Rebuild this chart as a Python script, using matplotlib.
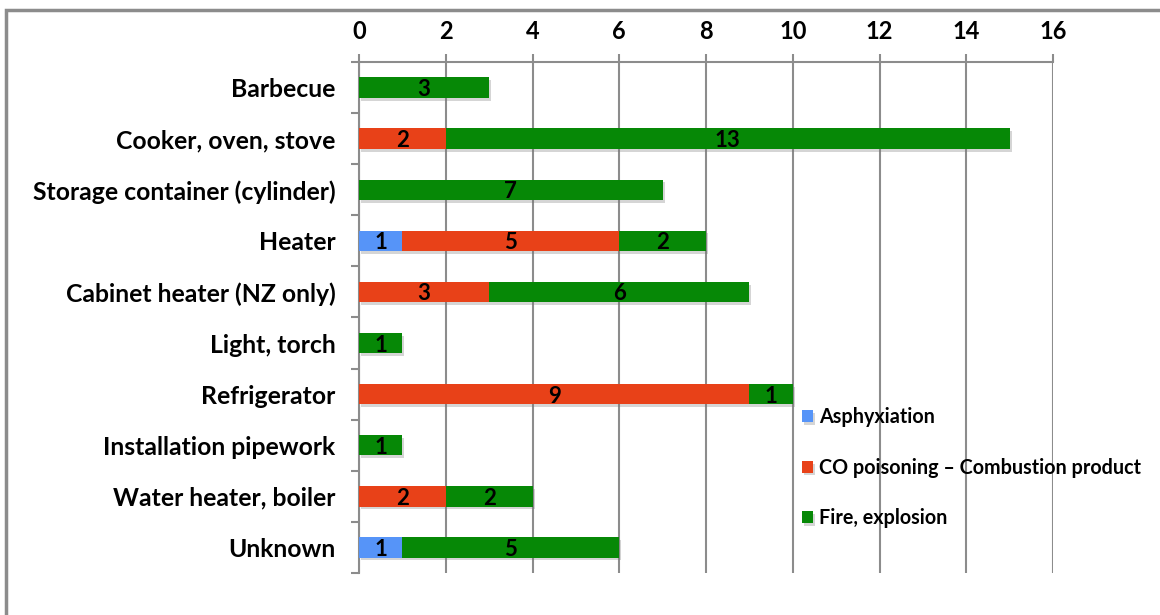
import numpy as np
import matplotlib
matplotlib.use("Agg")
import matplotlib.pyplot as plt
import matplotlib.patheffects as pe
from matplotlib.patches import Rectangle

categories = ["Barbecue", "Cooker, oven, stove", "Storage container (cylinder)", "Heater",
              "Cabinet heater (NZ only)", "Light, torch", "Refrigerator",
              "Installation pipework", "Water heater, boiler", "Unknown"]
asphyxiation = [0, 0, 0, 1, 0, 0, 0, 0, 0, 1]
co_poisoning = [0, 2, 0, 5, 3, 0, 9, 0, 2, 0]
fire_explosion = [3, 13, 7, 2, 6, 1, 1, 1, 2, 5]
series_names = ["Asphyxiation", "CO poisoning \u2013 Combustion product", "Fire, explosion"]
colors = ["#5694f8", "#e84118", "#068806"]
xticks = [0, 2, 4, 6, 8, 10, 12, 14, 16]

plt.rcParams['font.family'] = ['Lato', 'DejaVu Sans']
grey = "#8c8c8c"

fig = plt.figure(figsize=(11.6, 6.15), dpi=100)
fig.patches.append(Rectangle((6 / 1160, -0.1), 1.2, 1 - 10 / 615 + 0.1, transform=fig.transFigure,
                             fill=False, edgecolor=grey, lw=2.5, zorder=0))
ax = fig.add_axes([0.3095, 0.0683, 0.5983, 0.8309])

y = np.arange(len(categories))
left = np.zeros(len(categories))
shadow = [pe.SimplePatchShadow(offset=(1.5, -2), shadow_rgbFace="#777777", alpha=0.3), pe.Normal()]
for vals, name, c in zip([asphyxiation, co_poisoning, fire_explosion], series_names, colors):
    vals = np.array(vals, dtype=float)
    bars = ax.barh(y, vals, left=left, height=0.4, color=c, label=name, zorder=3)
    for b in bars:
        b.set_path_effects(shadow)
    for yi, l, v in zip(y, left, vals):
        if v > 0:
            ax.text(l + v / 2, yi + 0.04, f"{int(v)}", ha="center", va="center",
                    fontsize=16, fontweight="bold", color="black", zorder=4)
    left += vals

ax.set_xlim(0, 16)
ax.set_ylim(len(categories) - 0.5, -0.5)
ax.xaxis.tick_top()
ax.set_xticks(xticks)
ax.set_xticklabels([str(t) for t in xticks], fontsize=17, fontweight="bold")
ax.tick_params(axis="x", length=6, color=grey, width=1.5, pad=8)
ax.set_yticks(y)
ax.set_yticklabels(categories, fontsize=17.8, fontweight="bold")
ax.set_yticks(np.arange(-0.5, len(categories), 1), minor=True)
ax.tick_params(axis="y", which="major", length=0, pad=17)
ax.tick_params(axis="y", which="minor", length=6, color=grey, width=1.5)
ax.grid(axis="x", color=grey, lw=1.5, zorder=0)
ax.set_axisbelow(True)
for s in ["right", "bottom"]:
    ax.spines[s].set_visible(False)
for s in ["top", "left"]:
    ax.spines[s].set_color(grey)
    ax.spines[s].set_linewidth(1.5)

leg = ax.legend(loc="upper left", bbox_to_anchor=(0.627, 0.34), frameon=False,
                handlelength=0.55, handleheight=0.55, handletextpad=0.3, labelspacing=1.55,
                prop={"size": 14.2, "weight": "bold"}, borderaxespad=0)

fig.savefig("out.png", dpi=100)
